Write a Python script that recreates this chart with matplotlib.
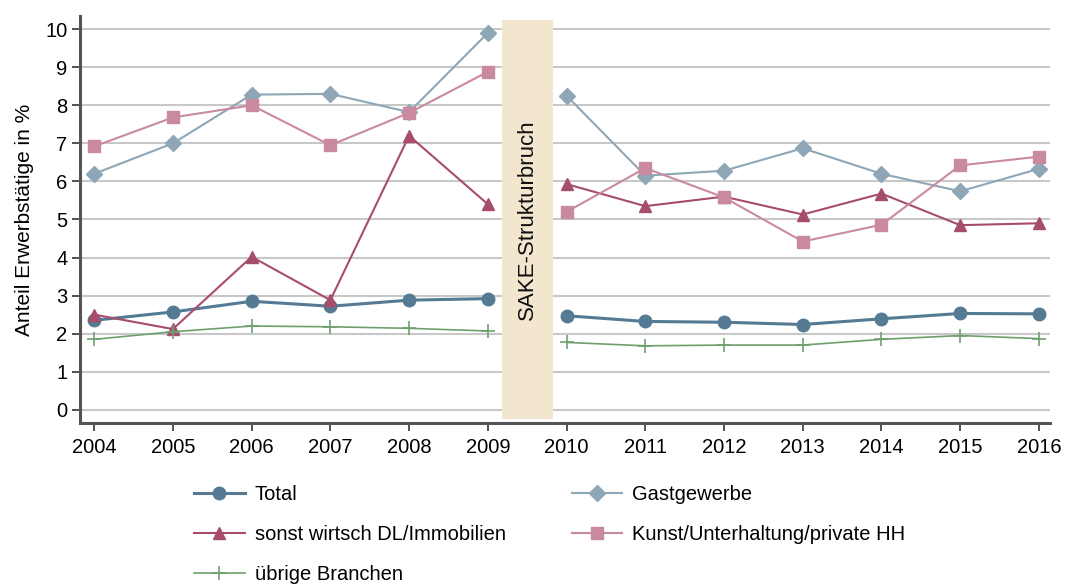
import matplotlib
matplotlib.use("Agg")
import matplotlib.pyplot as plt
import numpy as np

plt.rcParams['font.family'] = ['Liberation Sans', 'DejaVu Sans']

years_a = [2004, 2005, 2006, 2007, 2008, 2009]
years_b = [2010, 2011, 2012, 2013, 2014, 2015, 2016]

total_a = [2.35, 2.57, 2.85, 2.72, 2.88, 2.92]
total_b = [2.47, 2.32, 2.30, 2.24, 2.39, 2.53, 2.52]
gast_a = [6.20, 7.00, 8.28, 8.30, 7.82, 9.90]
gast_b = [8.25, 6.15, 6.28, 6.87, 6.20, 5.74, 6.33]
sonst_a = [2.50, 2.12, 4.02, 2.88, 7.20, 5.40]
sonst_b = [5.93, 5.35, 5.60, 5.13, 5.68, 4.85, 4.90]
kunst_a = [6.92, 7.68, 8.00, 6.95, 7.80, 8.88]
kunst_b = [5.20, 6.35, 5.58, 4.42, 4.86, 6.42, 6.65]
uebrig_a = [1.85, 2.05, 2.20, 2.18, 2.14, 2.07]
uebrig_b = [1.77, 1.68, 1.70, 1.70, 1.85, 1.95, 1.87]

labels = ["Total", "Gastgewerbe", "sonst wirtsch DL/Immobilien",
          "Kunst/Unterhaltung/private HH", "übrige Branchen"]
xticks = list(range(2004, 2017))

fig = plt.figure(figsize=(10.67, 5.86), dpi=100)
ax = fig.add_axes([0.075, 0.278, 0.909, 0.695])

for yv in range(0, 11):
    ax.axhline(yv, color='#c8c8c8', lw=1.5, zorder=0)

ax.axvspan(2009.18, 2009.83, ymin=0.01, ymax=0.99, color='#f2e6cf', zorder=1, lw=0)
ax.text(2009.505, 5.0, "SAKE-Strukturbruch", rotation=90, ha='center', va='center',
        fontsize=16, color='#111111', zorder=2)

styles = [
    (total_a, total_b, dict(color='#557a94', marker='o', ms=9, lw=2.2)),
    (gast_a, gast_b, dict(color='#8ea6b6', marker='D', ms=8.5, lw=1.5)),
    (sonst_a, sonst_b, dict(color='#a64d6b', marker='^', ms=8.5, lw=1.5)),
    (kunst_a, kunst_b, dict(color='#c98a9f', marker='s', ms=8, lw=1.5)),
    (uebrig_a, uebrig_b, dict(color='#6ea06e', marker='+', ms=10, lw=1.2, mew=1.2)),
]
handles = []
for (a, b, st), lab in zip(styles, labels):
    h, = ax.plot(years_a, a, zorder=3, label=lab, **st)
    ax.plot(years_b, b, zorder=3, **st)
    handles.append(h)

ax.set_xlim(2003.82, 2016.14)
ax.set_ylim(-0.35, 10.35)
ax.set_xticks(xticks)
ax.set_yticks(range(0, 11))
ax.tick_params(axis='both', labelsize=14.5, direction='out', length=6, width=1.2, color='#333333')
ax.tick_params(axis='y', pad=3)
ax.tick_params(axis='x', pad=5)
for s in ['top', 'right']:
    ax.spines[s].set_visible(False)
for s in ['left', 'bottom']:
    ax.spines[s].set_linewidth(2.2)
    ax.spines[s].set_color('#555555')
ax.set_ylabel("Anteil Erwerbstätige in %", fontsize=15, labelpad=8)

order = [0, 2, 4, 1, 3]
leg = fig.legend([handles[i] for i in order], [labels[i] for i in order],
                 ncol=2, loc='upper left', bbox_to_anchor=(0.165, 0.204),
                 frameon=False, fontsize=14.5, handlelength=2.5, columnspacing=3.3,
                 labelspacing=1.05, handletextpad=0.5)

fig.savefig("out.png", dpi=100)
